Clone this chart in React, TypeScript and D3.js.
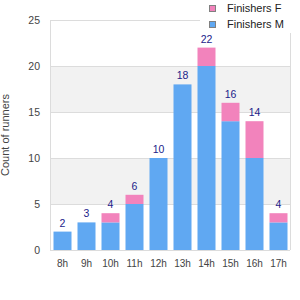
import { useEffect, useRef } from "react";
import * as d3 from "d3";

const hours = ["8h", "9h", "10h", "11h", "12h", "13h", "14h", "15h", "16h", "17h"];
const finishersM = [2, 3, 3, 5, 10, 18, 20, 14, 10, 3];
const finishersF = [0, 0, 1, 1, 0, 0, 2, 2, 4, 1];
const yTicks = [0, 5, 10, 15, 20, 25];

const colorM = "#60a8f2";
const colorF = "#f283bc";

const RunnersChart = () => {
  const svgRef = useRef(null);

  useEffect(() => {
    const margin = { top: 20, right: 10, bottom: 50, left: 50 };
    const width = 300 - margin.left - margin.right;
    const height = 300 - margin.top - margin.bottom;
    const font = "'Liberation Sans', Arial, sans-serif";

    d3.select(svgRef.current).selectAll("*").remove();

    const root = d3.select(svgRef.current).attr("width", 300).attr("height", 300);
    const svg = root.append("g").attr("transform", `translate(${margin.left},${margin.top})`);

    const rows = hours.map((h, i) => ({ hour: h, M: finishersM[i], F: finishersF[i] }));
    const stacked = d3.stack().keys(["M", "F"])(rows);

    const x = d3.scaleBand().domain(hours).range([0, width]).paddingInner(0.25).paddingOuter(0.125);
    const y = d3.scaleLinear().domain([0, 25]).range([height, 0]);

    // серые полосы 5-10 и 15-20
    [[5, 10], [15, 20]].forEach(([a, b]) => {
      svg
        .append("rect")
        .attr("x", 0)
        .attr("y", y(b))
        .attr("width", width)
        .attr("height", y(a) - y(b))
        .attr("fill", "#f2f2f2");
    });

    // линии сетки
    svg
      .selectAll("line.grid")
      .data(yTicks)
      .enter()
      .append("line")
      .attr("x1", 0)
      .attr("x2", width)
      .attr("y1", (d) => y(d) + 0.5)
      .attr("y2", (d) => y(d) + 0.5)
      .attr("stroke", "#dcdcdc");

    svg.append("line").attr("x1", 0.5).attr("x2", 0.5).attr("y1", 0).attr("y2", height).attr("stroke", "#dcdcdc");
    svg.append("line").attr("x1", width + 0.5).attr("x2", width + 0.5).attr("y1", 0).attr("y2", height).attr("stroke", "#dcdcdc");

    // столбцы
    const colors = [colorM, colorF];
    stacked.forEach((layer, k) => {
      svg
        .selectAll(`rect.s${k}`)
        .data(layer)
        .enter()
        .append("rect")
        .attr("x", (d) => x(d.data.hour) + 0.5)
        .attr("y", (d) => y(d[1]))
        .attr("width", x.bandwidth())
        .attr("height", (d) => y(d[0]) - y(d[1]))
        .attr("fill", colors[k]);
    });

    // подписи значений
    svg
      .selectAll("text.val")
      .data(rows)
      .enter()
      .append("text")
      .attr("x", (d) => x(d.hour) + x.bandwidth() / 2 + 0.5)
      .attr("y", (d) => y(d.M + d.F) - 5)
      .attr("text-anchor", "middle")
      .attr("font-family", font)
      .attr("font-size", 10.5)
      .attr("fill", "#1c1c8a")
      .text((d) => d.M + d.F);

    // ось Y
    svg
      .selectAll("text.ytick")
      .data(yTicks)
      .enter()
      .append("text")
      .attr("x", -10)
      .attr("y", (d) => y(d) + 4)
      .attr("text-anchor", "end")
      .attr("font-family", font)
      .attr("font-size", 10.5)
      .attr("fill", "#444")
      .text((d) => d);

    // ось X
    svg
      .selectAll("text.xtick")
      .data(hours)
      .enter()
      .append("text")
      .attr("x", (d) => x(d) + x.bandwidth() / 2 + 0.5)
      .attr("y", height + 17)
      .attr("text-anchor", "middle")
      .attr("font-family", font)
      .attr("font-size", 10)
      .attr("fill", "#444")
      .text((d) => d);

    // подпись оси Y
    root
      .append("text")
      .attr("transform", `translate(9,${margin.top + height / 2}) rotate(-90)`)
      .attr("text-anchor", "middle")
      .attr("font-family", font)
      .attr("font-size", 11)
      .attr("fill", "#444")
      .text("Count of runners");

    // легенда
    root.append("rect").attr("x", 200).attr("y", 0).attr("width", 100).attr("height", 33).attr("fill", "#fff");
    const legend = [
      { label: "Finishers F", color: colorF },
      { label: "Finishers M", color: colorM },
    ];
    legend.forEach((l, i) => {
      root
        .append("rect")
        .attr("x", 209.5)
        .attr("y", 5.5 + i * 16)
        .attr("width", 6)
        .attr("height", 6)
        .attr("fill", l.color)
        .attr("stroke", "#808080");
      root
        .append("text")
        .attr("x", 227)
        .attr("y", 12 + i * 16)
        .attr("font-family", font)
        .attr("font-size", 11)
        .attr("fill", "#222")
        .text(l.label);
    });
  }, []);

  return (
    <div style={{ position: "absolute", left: 0, top: 0 }}>
      <svg ref={svgRef}></svg>
    </div>
  );
};

export default RunnersChart;
